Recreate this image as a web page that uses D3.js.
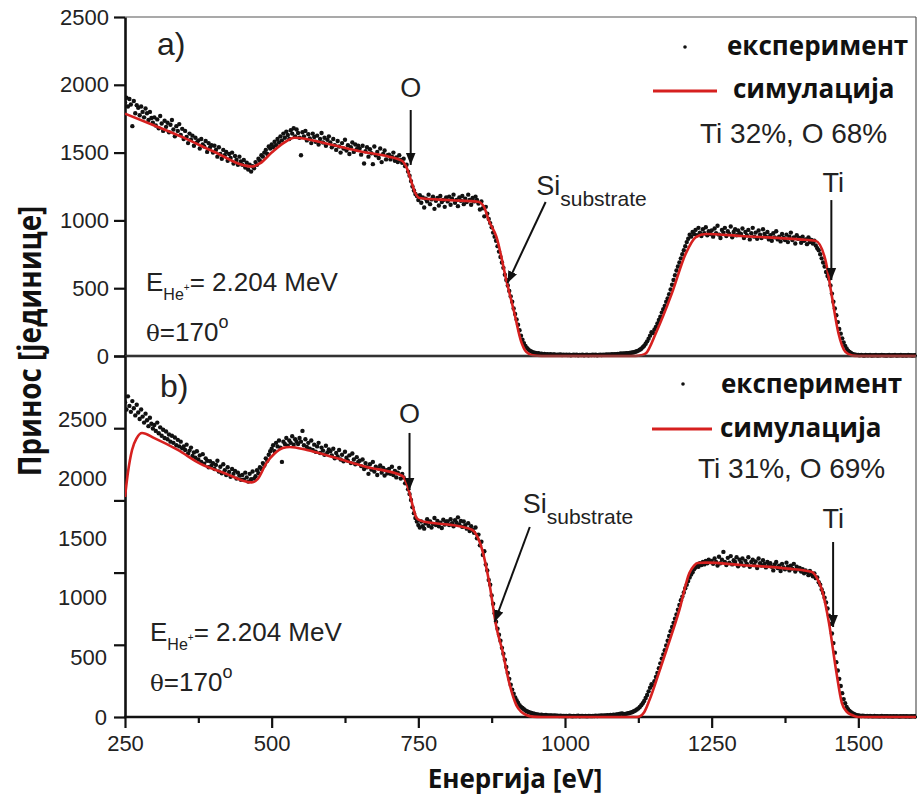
<!DOCTYPE html>
<html>
<head>
<meta charset="utf-8">
<script src="https://cdn.jsdelivr.net/npm/d3@7"></script>
<style>
  body { margin: 0; background: #fff; }
  .tick text { font-family: "Liberation Sans", Arial, sans-serif; fill: #222; }
</style>
</head>
<body>
<svg id="chart"></svg>
<script>
// energy channels of the measured spectra
const energyStart = 250;
const energyStep = 2.5;

// measured yield, panel a (one value per channel, 250 .. 1600 eV)
const expA = [
  1870,1905,1840,1895,1855,1695,1880,1790,1850,1830,1775,1840,1800,1760,1825,1790,1740,1800,1755,1720,
  1760,1700,1745,1680,1770,1715,1660,1735,1690,1720,1650,1705,1740,1670,1620,1695,1660,1710,1630,1675,
  1600,1660,1615,1570,1640,1595,1625,1550,1610,1575,1590,1530,1600,1560,1545,1585,1505,1570,1540,1555,
  1500,1550,1520,1470,1540,1490,1455,1520,1480,1505,1440,1490,1460,1500,1420,1475,1445,1410,1470,1435,
  1410,1445,1390,1425,1375,1410,1360,1400,1385,1430,1410,1455,1440,1480,1470,1500,1520,1490,1545,1530,
  1560,1540,1580,1555,1600,1575,1620,1590,1640,1610,1655,1630,1600,1665,1640,1680,1620,1670,1645,1610,
  1480,1650,1620,1660,1590,1635,1605,1570,1640,1615,1580,1625,1560,1600,1645,1575,1610,1550,1595,1620,
  1575,1540,1600,1555,1520,1585,1545,1500,1570,1530,1595,1515,1555,1490,1540,1575,1505,1560,1525,1550,
  1530,1485,1550,1420,1510,1540,1470,1525,1495,1415,1545,1480,1505,1460,1530,1430,1490,1515,1450,1480,
  1485,1450,1470,1500,1440,1465,1430,1480,1445,1425,1455,1400,1410,1360,1330,1290,1250,1220,1195,1180,
  1150,1185,1130,1170,1095,1160,1140,1190,1120,1155,1175,1085,1145,1165,1110,1180,1135,1150,1100,1170,
  1140,1175,1115,1160,1190,1130,1150,1105,1170,1145,1180,1120,1160,1135,1190,1150,1115,1165,1140,1175,
  1150,1125,1080,1140,1090,1030,1100,1050,1010,980,950,910,880,850,810,770,730,690,650,600,
  560,520,480,440,400,350,310,270,230,190,150,120,95,75,60,48,40,34,28,24,
  22,18,20,15,17,13,16,12,14,10,13,9,11,12,8,10,9,11,7,9,
  8,10,7,9,6,8,10,7,9,6,8,7,9,5,8,10,6,8,7,9,
  7,9,6,8,10,7,9,8,11,9,12,10,13,11,14,13,16,15,18,17,
  18,19,20,21,22,24,26,28,31,35,40,46,54,64,76,90,108,128,150,175,
  170,195,215,240,265,290,320,345,370,400,425,455,490,525,560,595,630,660,690,720,
  750,780,810,840,865,895,880,915,900,930,890,945,910,885,935,905,950,890,920,900,
  925,880,940,905,960,895,870,930,910,945,885,920,900,955,875,915,935,890,925,905,
  900,940,870,915,890,930,860,905,945,880,910,865,925,895,870,935,900,880,915,860,
  890,850,905,875,920,860,880,845,900,870,855,895,840,880,910,855,875,830,890,865,
  870,835,880,850,860,825,875,840,855,830,850,815,795,780,750,720,690,660,620,590,
  570,520,460,400,350,300,250,200,165,130,100,75,55,40,30,22,16,12,9,8,
  7,5,8,6,4,7,5,6,8,4,6,5,7,4,6,5,8,5,6,4,
  5,7,4,6,5,8,4,6,5,7,4,5,6,4,7,5,6,4,5,6,5
];

// measured yield, panel b
const expB = [
  2640,2580,2690,2610,2560,2650,2590,2530,2620,2555,2500,2580,2520,2470,2545,2490,2440,2510,2460,2420,
  2450,2400,2470,2380,2430,2360,2410,2340,2395,2330,2370,2310,2360,2300,2345,2280,2325,2270,2310,2255,
  2270,2240,2285,2210,2235,2260,2190,2220,2175,2230,2160,2195,2140,2205,2125,2170,2150,2095,2145,2110,
  2130,2080,2115,2150,2060,2100,2045,2120,2070,2030,2095,2055,2015,2080,2040,2065,2000,2050,2025,1990,
  2030,1990,2050,2010,1975,2040,1995,2060,2000,2020,2070,2045,2095,2080,2130,2110,2170,2150,2200,2230,
  2250,2280,2230,2300,2270,2320,2260,2140,2310,2290,2340,2275,2320,2300,2355,2285,2330,2310,2290,2340,
  2310,2400,2280,2330,2265,2300,2250,2320,2240,2285,2225,2270,2300,2215,2260,2235,2200,2275,2220,2245,
  2230,2195,2250,2170,2215,2185,2240,2160,2200,2145,2225,2175,2150,2195,2130,2210,2160,2120,2180,2140,
  2150,2105,2160,2080,2130,2095,2040,2120,2075,2140,2060,2100,2030,2085,2110,2050,2090,2025,2070,2045,
  2080,2040,2100,2030,2065,2010,2050,2090,2000,2040,2010,1960,1980,1910,1870,1820,1760,1710,1670,1640,
  1610,1590,1640,1600,1580,1625,1660,1605,1640,1590,1620,1670,1610,1645,1600,1630,1585,1655,1615,1640,
  1640,1610,1660,1625,1600,1650,1630,1675,1615,1645,1595,1640,1610,1580,1625,1560,1600,1570,1545,1590,
  1500,1530,1440,1470,1360,1390,1280,1230,1150,1110,1020,950,870,800,740,690,640,580,530,480,
  420,370,320,270,230,195,165,140,120,100,85,75,65,55,48,42,38,34,30,27,
  24,22,20,18,19,16,15,17,13,14,12,13,11,12,10,11,9,10,9,8,
  8,9,7,10,8,6,9,7,8,10,6,8,9,7,8,6,9,8,7,9,
  8,10,9,11,10,12,11,13,12,15,14,17,16,19,18,22,21,25,27,30,
  24,26,28,31,34,38,42,48,55,63,72,84,98,115,135,160,185,215,245,275,
  265,300,335,370,410,450,490,525,560,600,640,680,720,755,790,825,860,900,940,980,
  1010,1045,1080,1110,1140,1170,1195,1215,1240,1255,1270,1260,1290,1275,1300,1280,1310,1290,1320,1300,
  1310,1285,1330,1300,1270,1345,1290,1320,1385,1300,1275,1335,1295,1350,1280,1315,1300,1340,1265,1320,
  1295,1330,1270,1310,1285,1340,1260,1300,1320,1275,1305,1250,1330,1290,1270,1315,1285,1255,1300,1280,
  1290,1260,1230,1280,1300,1250,1270,1225,1285,1255,1240,1295,1260,1230,1270,1245,1285,1220,1260,1240,
  1250,1220,1240,1205,1230,1215,1190,1225,1200,1180,1205,1165,1170,1130,1110,1070,1040,1000,960,910,
  850,780,700,620,540,460,390,320,260,200,150,115,85,65,50,40,32,26,20,16,
  13,11,9,10,8,7,9,6,8,7,5,8,6,7,5,6,8,5,6,7,
  6,5,7,4,6,5,7,5,4,6,5,7,4,6,5,4,6,5,7,4,5
];

// simulated spectra [energy, yield]
const simA = [
  [250,1787],[300,1700],[350,1610],[400,1510],[466,1397],[480,1420],[500,1500],[520,1570],
  [539,1610],[600,1560],[650,1510],[700,1470],[722,1440],[730,1390],[737,1300],[745,1200],
  [752,1165],[800,1150],[852,1138],[862,1100],[870,1000],[883,880],[901,540],[913,330],
  [925,110],[934,30],[945,5],[960,0],[1120,0],[1130,5],[1138,20],[1155,170],[1182,460],
  [1206,757],[1223,877],[1240,900],[1300,885],[1400,860],[1427,850],[1444,706],[1454,463],
  [1466,170],[1478,30],[1490,3],[1500,0],[1600,0]
];
const simB = [
  [250,1846],[255,2050],[262,2240],[270,2340],[279,2383],[300,2340],[340,2240],[378,2125],
  [420,2045],[466,1968],[476,1995],[491,2130],[505,2210],[519,2256],[531,2265],[560,2240],
  [604,2181],[660,2100],[723,2022],[730,1960],[735,1879],[741,1760],[747,1670],[755,1645],
  [763,1636],[820,1600],[842,1569],[850,1520],[859,1400],[871,1124],[883,755],[893,562],
  [905,285],[917,100],[925,45],[934,17],[945,3],[960,0],[1120,0],[1127,5],[1135,40],
  [1144,142],[1160,370],[1173,562],[1195,898],[1212,1208],[1220,1270],[1226,1292],[1240,1295],
  [1300,1275],[1380,1245],[1421,1216],[1430,1160],[1438,1065],[1450,789],[1462,394],
  [1472,117],[1480,45],[1489,17],[1500,0],[1600,0]
];

const xTickValues = [250, 500, 750, 1000, 1250, 1500];
const xMinorTicks = [375, 625, 875, 1125, 1375];
const yTickValues = [0, 500, 1000, 1500, 2000, 2500];

const xLabel = 'Енергија [eV]';
const yLabel = 'Принос [јединице]';
const legendExp = 'експеримент';
const legendSim = 'симулација';
const compA = 'Ti 32%, O 68%';
const compB = 'Ti 31%, O 69%';

const width = 917, height = 800;
const svg = d3.select('#chart').attr('width', width).attr('height', height);

const defs = svg.append('defs');
defs.append('marker')
    .attr('id', 'arrowhead')
    .attr('viewBox', '0 0 10 10')
    .attr('refX', 10).attr('refY', 5)
    .attr('markerWidth', 6).attr('markerHeight', 6)
    .attr('markerUnits', 'strokeWidth')
    .attr('orient', 'auto')
  .append('path')
    .attr('d', 'M0,1 L10,5 L0,9 Z')
    .attr('fill', '#111');

const x = d3.scaleLinear().domain([250, 1600]).range([125, 917]);

class SpectrumPanel {
  constructor(_config, _exp, _sim) {
    this.config = _config;
    this.exp = _exp.map((v, i) => ({ e: energyStart + i * energyStep, v: v }));
    this.sim = _sim;
    this.initVis();
  }

  initVis() {
    let vis = this;
    let c = vis.config;

    vis.y = d3.scaleLinear().domain([0, 2500]).range(c.labelRange);
    vis.yTicks = d3.scaleLinear().domain([0, 2500]).range([c.bottom, c.top]);

    vis.g = svg.append('g');

    // frame top / right
    vis.g.append('line')
        .attr('x1', 125).attr('x2', 916).attr('y1', c.top).attr('y2', c.top)
        .attr('stroke', '#555').attr('stroke-width', 1.2);
    vis.g.append('line')
        .attr('x1', 916).attr('x2', 916).attr('y1', c.top).attr('y2', c.bottom)
        .attr('stroke', '#555').attr('stroke-width', 1.2);

    vis.clipId = 'clip-' + c.name;
    defs.append('clipPath').attr('id', vis.clipId)
      .append('rect')
        .attr('x', 125).attr('y', c.top)
        .attr('width', 791).attr('height', c.bottom - c.top + 2);

    vis.renderVis();
  }

  renderVis() {
    let vis = this;
    let c = vis.config;

    // y axis: tick marks
    let yAxisTicks = d3.axisLeft(vis.yTicks)
        .tickValues(yTickValues)
        .tickSize(11)
        .tickSizeOuter(0)
        .tickFormat(c.splitLabels ? '' : d3.format('d'))
        .tickPadding(5);
    let yAxisG = vis.g.append('g')
        .attr('transform', 'translate(125,0)')
        .call(yAxisTicks);
    yAxisG.selectAll('.tick line').attr('stroke', '#111').attr('stroke-width', 2.2);
    yAxisG.select('.domain').attr('stroke', '#111').attr('stroke-width', 2.6);
    yAxisG.selectAll('text').attr('font-size', 22);

    // panel b: labels sit on their own scale
    if (c.splitLabels) {
      let yAxisLabels = d3.axisLeft(vis.y)
          .tickValues(yTickValues)
          .tickSize(0)
          .tickFormat(d3.format('d'))
          .tickPadding(18);
      let labG = vis.g.append('g')
          .attr('transform', 'translate(125,0)')
          .call(yAxisLabels);
      labG.select('.domain').remove();
      labG.selectAll('text').attr('font-size', 22);
    }

    // bottom line
    vis.g.append('line')
        .attr('x1', 124).attr('x2', 917).attr('y1', c.bottom).attr('y2', c.bottom)
        .attr('stroke', '#111').attr('stroke-width', 2.6);

    if (c.xAxis) {
      let xAxis = d3.axisBottom(x).tickValues(xTickValues).tickSize(11).tickSizeOuter(0)
          .tickFormat(d3.format('d')).tickPadding(7);
      let xg = vis.g.append('g').attr('transform', `translate(0,${c.bottom})`).call(xAxis);
      xg.select('.domain').remove();
      xg.selectAll('.tick line').attr('stroke', '#111').attr('stroke-width', 2.2);
      xg.selectAll('text').attr('font-size', 22);

      let xMinor = d3.axisBottom(x).tickValues(xMinorTicks).tickSize(6).tickFormat('');
      let xm = vis.g.append('g').attr('transform', `translate(0,${c.bottom})`).call(xMinor);
      xm.select('.domain').remove();
      xm.selectAll('.tick line').attr('stroke', '#111').attr('stroke-width', 2.2);
    }

    let plot = vis.g.append('g').attr('clip-path', `url(#${vis.clipId})`);

    plot.selectAll('circle.exp')
        .data(vis.exp)
      .join('circle')
        .attr('class', 'exp')
        .attr('cx', d => x(d.e))
        .attr('cy', d => vis.y(d.v))
        .attr('r', 2.2)
        .attr('fill', '#111');

    let line = d3.line()
        .x(d => x(d[0]))
        .y(d => vis.y(d[1]))
        .curve(d3.curveMonotoneX);

    plot.append('path')
        .datum(vis.sim)
        .attr('d', line)
        .attr('fill', 'none')
        .attr('stroke', '#d6201f')
        .attr('stroke-width', 2.6);

    // panel letter
    vis.g.append('text')
        .attr('x', c.letter[0]).attr('y', c.letter[1])
        .attr('font-family', '"Liberation Sans", Arial, sans-serif')
        .attr('font-size', 32).attr('fill', '#222')
        .text(c.name + ')');

    // legend
    let lg = c.legend;
    vis.g.append('circle').attr('cx', lg.dot[0]).attr('cy', lg.dot[1]).attr('r', 1.8).attr('fill', '#111');
    vis.g.append('text')
        .attr('x', lg.expText[0]).attr('y', lg.expText[1])
        .attr('font-family', '"Open Sans", "Noto Sans", sans-serif')
        .attr('font-weight', 'bold').attr('font-size', 26).attr('fill', '#111')
        .text(legendExp);
    vis.g.append('line')
        .attr('x1', lg.line[0]).attr('x2', lg.line[1]).attr('y1', lg.line[2]).attr('y2', lg.line[2])
        .attr('stroke', '#d6201f').attr('stroke-width', 3);
    vis.g.append('text')
        .attr('x', lg.simText[0]).attr('y', lg.simText[1])
        .attr('font-family', '"Open Sans", "Noto Sans", sans-serif')
        .attr('font-weight', 'bold').attr('font-size', 26).attr('fill', '#111')
        .text(legendSim);
    vis.g.append('text')
        .attr('x', lg.comp[0]).attr('y', lg.comp[1])
        .attr('font-family', '"Liberation Sans", Arial, sans-serif')
        .attr('font-size', 28).attr('fill', '#222')
        .text(c.comp);

    // beam conditions
    let beam = vis.g.append('text')
        .attr('x', c.beam[0]).attr('y', c.beam[1])
        .attr('font-family', '"Liberation Sans", Arial, sans-serif')
        .attr('font-size', 26).attr('fill', '#222');
    beam.append('tspan').text('E');
    beam.append('tspan').attr('font-size', 16).attr('dy', 9).text('He');
    beam.append('tspan').attr('font-size', 10).attr('dy', -9).text('+');
    beam.append('tspan').attr('dy', 0).text('= 2.204 MeV');

    let theta = vis.g.append('text')
        .attr('x', c.beam[0]).attr('y', c.beam[1] + 50)
        .attr('font-family', '"Liberation Sans", Arial, sans-serif')
        .attr('font-size', 26).attr('fill', '#222');
    theta.append('tspan').attr('font-family', '"DejaVu Serif", serif').attr('font-size', 23).text('θ');
    theta.append('tspan').text('=170');
    theta.append('tspan').attr('font-size', 18).attr('dy', -13).text('o');

    // element annotations
    c.notes.forEach(n => {
      let t = vis.g.append('text')
          .attr('x', x(n.at[0])).attr('y', vis.y(n.at[1]))
          .attr('font-family', '"Liberation Sans", Arial, sans-serif')
          .attr('font-size', 27).attr('fill', '#222')
          .attr('text-anchor', n.anchor || 'start');
      t.append('tspan').text(n.label);
      if (n.sub) t.append('tspan').attr('font-size', 21).attr('dy', 11).text(n.sub);
      vis.g.append('line')
          .attr('x1', x(n.from[0])).attr('y1', vis.y(n.from[1]))
          .attr('x2', x(n.to[0])).attr('y2', vis.y(n.to[1]))
          .attr('stroke', '#111').attr('stroke-width', 2)
          .attr('marker-end', 'url(#arrowhead)');
    });
  }
}

new SpectrumPanel({
  name: 'a', top: 17, bottom: 356, labelRange: [356, 17], splitLabels: false, xAxis: false,
  letter: [157, 55],
  legend: { dot: [685, 47], expText: [727, 55], line: [653, 717, 91], simText: [733, 98], comp: [700, 143] },
  comp: compA,
  beam: [146, 291],
  notes: [
    { label: 'O', at: [737, 1910], anchor: 'middle', from: [737, 1814], to: [737, 1409] },
    { label: 'Si', sub: 'substrate', at: [951, 1187], from: [967, 1136], to: [902, 538] },
    { label: 'Ti', at: [1439, 1209], from: [1454, 1150], to: [1454, 560] }
  ]
}, expA, simA);

new SpectrumPanel({
  name: 'b', top: 356, bottom: 717, labelRange: [717, 419], splitLabels: true, xAxis: true,
  letter: [160, 397],
  legend: { dot: [683, 384], expText: [721, 393], line: [652, 712, 429], simText: [720, 437], comp: [698, 478] },
  comp: compB,
  beam: [150, 641],
  notes: [
    { label: 'O', at: [735, 2470], anchor: 'middle', from: [735, 2383], to: [735, 1904] },
    { label: 'Si', sub: 'substrate', at: [928, 1711], from: [940, 1594], to: [880, 797] },
    { label: 'Ti', at: [1439, 1586], from: [1457, 1468], to: [1457, 755] }
  ]
}, expB, simB);

// axis titles
svg.append('text')
    .attr('x', 515).attr('y', 788)
    .attr('text-anchor', 'middle')
    .attr('font-family', '"Open Sans", "Noto Sans", sans-serif')
    .attr('font-weight', 'bold').attr('font-size', 26).attr('fill', '#111')
    .text(xLabel);

svg.append('text')
    .attr('transform', 'translate(41,341) rotate(-90) scale(0.84,1)')
    .attr('text-anchor', 'middle')
    .attr('font-family', '"Open Sans", "Noto Sans", sans-serif')
    .attr('font-weight', 'bold').attr('font-size', 33).attr('fill', '#111')
    .text(yLabel);
</script>
</body>
</html>
